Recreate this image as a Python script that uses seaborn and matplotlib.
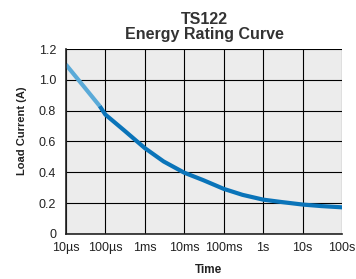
import numpy as np
import pandas as pd
import matplotlib
matplotlib.use('Agg')
import matplotlib.pyplot as plt
import seaborn as sns

## data
time_s = [1e-5, 3e-5, 7.2e-5, 7.2e-5, 1e-4, 3e-4, 1e-3, 3e-3, 1e-2, 3e-2, 1e-1, 3e-1, 1., 3., 10., 30., 100.]
current_a = [1.10, 0.95, 0.83, 0.83, 0.775, 0.672, 0.557, 0.47, 0.397, 0.349, 0.292, 0.253, 0.222, 0.206, 0.19, 0.18, 0.172]
segment = ['early'] * 3 + ['main'] * 14

xticks = [1e-5, 1e-4, 1e-3, 1e-2, 1e-1, 1., 10., 100.]
xticklabels = ['10µs', '100µs', '1ms', '10ms', '100ms', '1s', '10s', '100s']
yticks = [0, 0.2, 0.4, 0.6, 0.8, 1.0, 1.2]
yticklabels = ['0', '0.2', '0.4', '0.6', '0.8', '1.0', '1.2']

df = pd.DataFrame({'time': time_s, 'current': current_a, 'segment': segment})

## ============================== ##

sns.set_style('white')
plt.rcParams['font.family'] = ['Liberation Sans', 'DejaVu Sans']

fig = plt.figure(figsize=(3.56, 2.79), dpi=100)
ax = fig.add_axes([0.185, 0.162, 0.776, 0.662])
ax.set_facecolor('#ececec')

sns.lineplot(ax=ax, data=df, x='time', y='current', hue='segment', sort=False,
			 palette={'early': '#5aaad8', 'main': '#0a74b9'}, lw=3, legend=False,
			 solid_capstyle='butt', solid_joinstyle='round')

ax.set_xscale('log')
ax.set_xlim(1e-5, 100.)
ax.set_ylim(0., 1.2)
ax.set_xticks(xticks)
ax.set_xticklabels(xticklabels)
ax.set_yticks(yticks)
ax.set_yticklabels(yticklabels)
ax.minorticks_off()
ax.grid(True, color='k', lw=0.8)
ax.set_axisbelow(True)
ax.tick_params(length=0, labelsize=9, colors='#222222')
ax.tick_params(axis='x', pad=6)
ax.tick_params(axis='y', pad=7)
for side in ['top', 'right']:
	ax.spines[side].set_visible(False)
for side in ['left', 'bottom']:
	ax.spines[side].set_color('#222222')
	ax.spines[side].set_linewidth(1.2)

ax.set_xlabel('Time', fontsize=8.5, fontweight='bold', color='#222222')
ax.xaxis.set_label_coords(0.515, -0.163)
ax.set_ylabel('Load Current (A)', fontsize=8, fontweight='bold', color='#222222')
ax.yaxis.set_label_coords(-0.141, 0.556)
ax.set_title('TS122\nEnergy Rating Curve', fontsize=11.5, fontweight='bold', color='#333333',
			 linespacing=1.0, pad=7)

fig.savefig('out.png', dpi=100, facecolor='white')
